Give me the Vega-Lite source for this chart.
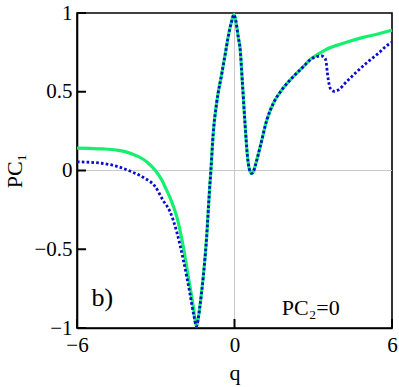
{
  "$schema": "https://vega.github.io/schema/vega-lite/v6.json",
  "width": 315,
  "height": 315,
  "autosize": {"type": "none"},
  "padding": {"left": 77, "top": 13, "right": 7, "bottom": 59},
  "background": "white",
  "config": {
    "view": {"stroke": "#000", "strokeWidth": 1.6},
    "font": "Times New Roman, Liberation Serif, serif",
    "axis": {
      "domainColor": "#000", "domainWidth": 1.6, "ticks": false,
      "grid": false, "labelFont": "Times New Roman, Liberation Serif, serif", "labelFontSize": 21,
      "labelColor": "#000", "titleFont": "Times New Roman, Liberation Serif, serif", "titleFontSize": 22,
      "titleFontWeight": "normal", "titleColor": "#000", "labelFlush": false, "labelOverlap": false
    }
  },
  "datasets": {
    "zero": [{"v": 0}],
    "xticks": [{"v": -6}, {"v": 0}, {"v": 6}],
    "yticks": [{"v": -1}, {"v": -0.5}, {"v": 0}, {"v": 0.5}, {"v": 1}],
    "green": [
      {"q": -6, "pc": 0.142}, {"q": -5.5, "pc": 0.14}, {"q": -5, "pc": 0.137}, {"q": -4.5, "pc": 0.13},
      {"q": -4.17, "pc": 0.12}, {"q": -3.9, "pc": 0.105}, {"q": -3.66, "pc": 0.088}, {"q": -3.45, "pc": 0.068},
      {"q": -3.28, "pc": 0.046}, {"q": -3.03, "pc": 0.003}, {"q": -2.77, "pc": -0.06}, {"q": -2.6, "pc": -0.12},
      {"q": -2.46, "pc": -0.17}, {"q": -2.2, "pc": -0.293}, {"q": -1.95, "pc": -0.484}, {"q": -1.76, "pc": -0.674},
      {"q": -1.57, "pc": -0.865}, {"q": -1.5, "pc": -0.95}, {"q": -1.45, "pc": -0.99}, {"q": -1.39, "pc": -0.95},
      {"q": -1.32, "pc": -0.865}, {"q": -1.19, "pc": -0.674}, {"q": -1.06, "pc": -0.42}, {"q": -0.96, "pc": -0.145},
      {"q": -0.9, "pc": 0.0}, {"q": -0.81, "pc": 0.236}, {"q": -0.68, "pc": 0.43}, {"q": -0.49, "pc": 0.61},
      {"q": -0.36, "pc": 0.733}, {"q": -0.25, "pc": 0.84}, {"q": -0.12, "pc": 0.94}, {"q": -0.02, "pc": 0.99},
      {"q": 0.05, "pc": 0.95}, {"q": 0.15, "pc": 0.84}, {"q": 0.21, "pc": 0.78}, {"q": 0.3, "pc": 0.56},
      {"q": 0.4, "pc": 0.3}, {"q": 0.5, "pc": 0.08}, {"q": 0.58, "pc": 0.0}, {"q": 0.65, "pc": -0.018},
      {"q": 0.72, "pc": -0.008}, {"q": 0.78, "pc": 0.024}, {"q": 0.97, "pc": 0.145}, {"q": 1.23, "pc": 0.32},
      {"q": 1.48, "pc": 0.427}, {"q": 1.8, "pc": 0.511}, {"q": 2.24, "pc": 0.596}, {"q": 2.62, "pc": 0.659},
      {"q": 2.88, "pc": 0.705}, {"q": 3.2, "pc": 0.74}, {"q": 3.51, "pc": 0.77}, {"q": 4.15, "pc": 0.808},
      {"q": 4.9, "pc": 0.845}, {"q": 5.5, "pc": 0.868}, {"q": 6, "pc": 0.89}
    ],
    "blue": [
      {"q": -6, "pc": 0.055}, {"q": -5.5, "pc": 0.052}, {"q": -5.06, "pc": 0.046}, {"q": -4.43, "pc": 0.024},
      {"q": -3.92, "pc": -0.008}, {"q": -3.41, "pc": -0.05}, {"q": -3.03, "pc": -0.1}, {"q": -2.72, "pc": -0.19},
      {"q": -2.46, "pc": -0.26}, {"q": -2.2, "pc": -0.39}, {"q": -1.95, "pc": -0.568}, {"q": -1.7, "pc": -0.78},
      {"q": -1.55, "pc": -0.92}, {"q": -1.45, "pc": -0.99}, {"q": -1.39, "pc": -0.95},
      {"q": -1.32, "pc": -0.865}, {"q": -1.19, "pc": -0.674}, {"q": -1.06, "pc": -0.42}, {"q": -0.96, "pc": -0.145},
      {"q": -0.9, "pc": 0.0}, {"q": -0.81, "pc": 0.236}, {"q": -0.68, "pc": 0.43}, {"q": -0.49, "pc": 0.61},
      {"q": -0.36, "pc": 0.733}, {"q": -0.25, "pc": 0.84}, {"q": -0.12, "pc": 0.94}, {"q": -0.02, "pc": 0.99},
      {"q": 0.05, "pc": 0.95}, {"q": 0.15, "pc": 0.84}, {"q": 0.21, "pc": 0.78}, {"q": 0.3, "pc": 0.56},
      {"q": 0.4, "pc": 0.3}, {"q": 0.5, "pc": 0.08}, {"q": 0.58, "pc": 0.0}, {"q": 0.65, "pc": -0.018},
      {"q": 0.72, "pc": -0.008}, {"q": 0.78, "pc": 0.024}, {"q": 0.97, "pc": 0.145}, {"q": 1.23, "pc": 0.32},
      {"q": 1.48, "pc": 0.427}, {"q": 1.8, "pc": 0.511}, {"q": 2.24, "pc": 0.596}, {"q": 2.62, "pc": 0.659},
      {"q": 2.88, "pc": 0.702}, {"q": 3.0, "pc": 0.715}, {"q": 3.32, "pc": 0.727}, {"q": 3.45, "pc": 0.712},
      {"q": 3.49, "pc": 0.69}, {"q": 3.54, "pc": 0.617}, {"q": 3.61, "pc": 0.543}, {"q": 3.7, "pc": 0.51},
      {"q": 3.8, "pc": 0.503}, {"q": 3.95, "pc": 0.511}, {"q": 4.27, "pc": 0.564}, {"q": 4.66, "pc": 0.627},
      {"q": 5.04, "pc": 0.684}, {"q": 5.48, "pc": 0.744}, {"q": 5.86, "pc": 0.8}, {"q": 6, "pc": 0.815}
    ],
    "lblb": [{"q": -5.45, "pc": -0.86, "t": "b)"}],
    "lblpc": [{"q": 1.8, "pc": -0.92, "t": "PC₂=0"}]
  },
  "layer": [
    {
      "data": {"name": "zero"},
      "mark": {"type": "rule", "color": "#c8c8c8", "strokeWidth": 1},
      "encoding": {"x": {"field": "v", "type": "quantitative", "scale": {"domain": [-6, 6], "nice": false, "zero": false}}}
    },
    {
      "data": {"name": "zero"},
      "mark": {"type": "rule", "color": "#c8c8c8", "strokeWidth": 1},
      "encoding": {"y": {"field": "v", "type": "quantitative", "scale": {"domain": [-1, 1], "nice": false, "zero": false}}}
    },
    {
      "data": {"name": "green"},
      "mark": {"type": "line", "color": "#14f06e", "strokeWidth": 3.2, "interpolate": "monotone"},
      "encoding": {
        "x": {"field": "q", "type": "quantitative", "scale": {"domain": [-6, 6], "nice": false, "zero": false},
              "axis": {"values": [-6, 0, 6], "format": "~g", "title": "q", "labelPadding": 6, "titleY": 51, "titleBaseline": "alphabetic"}},
        "y": {"field": "pc", "type": "quantitative", "scale": {"domain": [-1, 1], "nice": false, "zero": false},
              "axis": {"values": [-1, -0.5, 0, 0.5, 1], "format": "~g", "title": "PC₁", "labelPadding": 5,
                       "titleX": -56, "titleY": 157.5, "titleAngle": -90, "titleAlign": "center", "titleBaseline": "alphabetic"}}
      }
    },
    {
      "data": {"name": "blue"},
      "mark": {"type": "line", "color": "#0a0ad2", "strokeWidth": 2.8, "strokeDash": [2.6, 2.2], "strokeCap": "butt", "interpolate": "monotone"},
      "encoding": {
        "x": {"field": "q", "type": "quantitative"},
        "y": {"field": "pc", "type": "quantitative"}
      }
    },
    {
      "data": {"name": "xticks"},
      "mark": {"type": "rule", "color": "#000", "strokeWidth": 2},
      "encoding": {"x": {"field": "v", "type": "quantitative"}, "y": {"datum": -1}, "y2": {"datum": -0.943}}
    },
    {
      "data": {"name": "yticks"},
      "mark": {"type": "rule", "color": "#000", "strokeWidth": 2},
      "encoding": {"y": {"field": "v", "type": "quantitative"}, "x": {"datum": -6}, "x2": {"datum": -5.657}}
    },
    {
      "data": {"name": "lblb"},
      "mark": {"type": "text", "font": "Times New Roman, Liberation Serif, serif", "fontSize": 26, "align": "left", "baseline": "alphabetic", "color": "#000"},
      "encoding": {"x": {"field": "q", "type": "quantitative"}, "y": {"field": "pc", "type": "quantitative"}, "text": {"field": "t"}}
    },
    {
      "data": {"name": "lblpc"},
      "mark": {"type": "text", "font": "Times New Roman, Liberation Serif, serif", "fontSize": 22, "align": "left", "baseline": "alphabetic", "color": "#000"},
      "encoding": {"x": {"field": "q", "type": "quantitative"}, "y": {"field": "pc", "type": "quantitative"}, "text": {"field": "t"}}
    }
  ]
}
